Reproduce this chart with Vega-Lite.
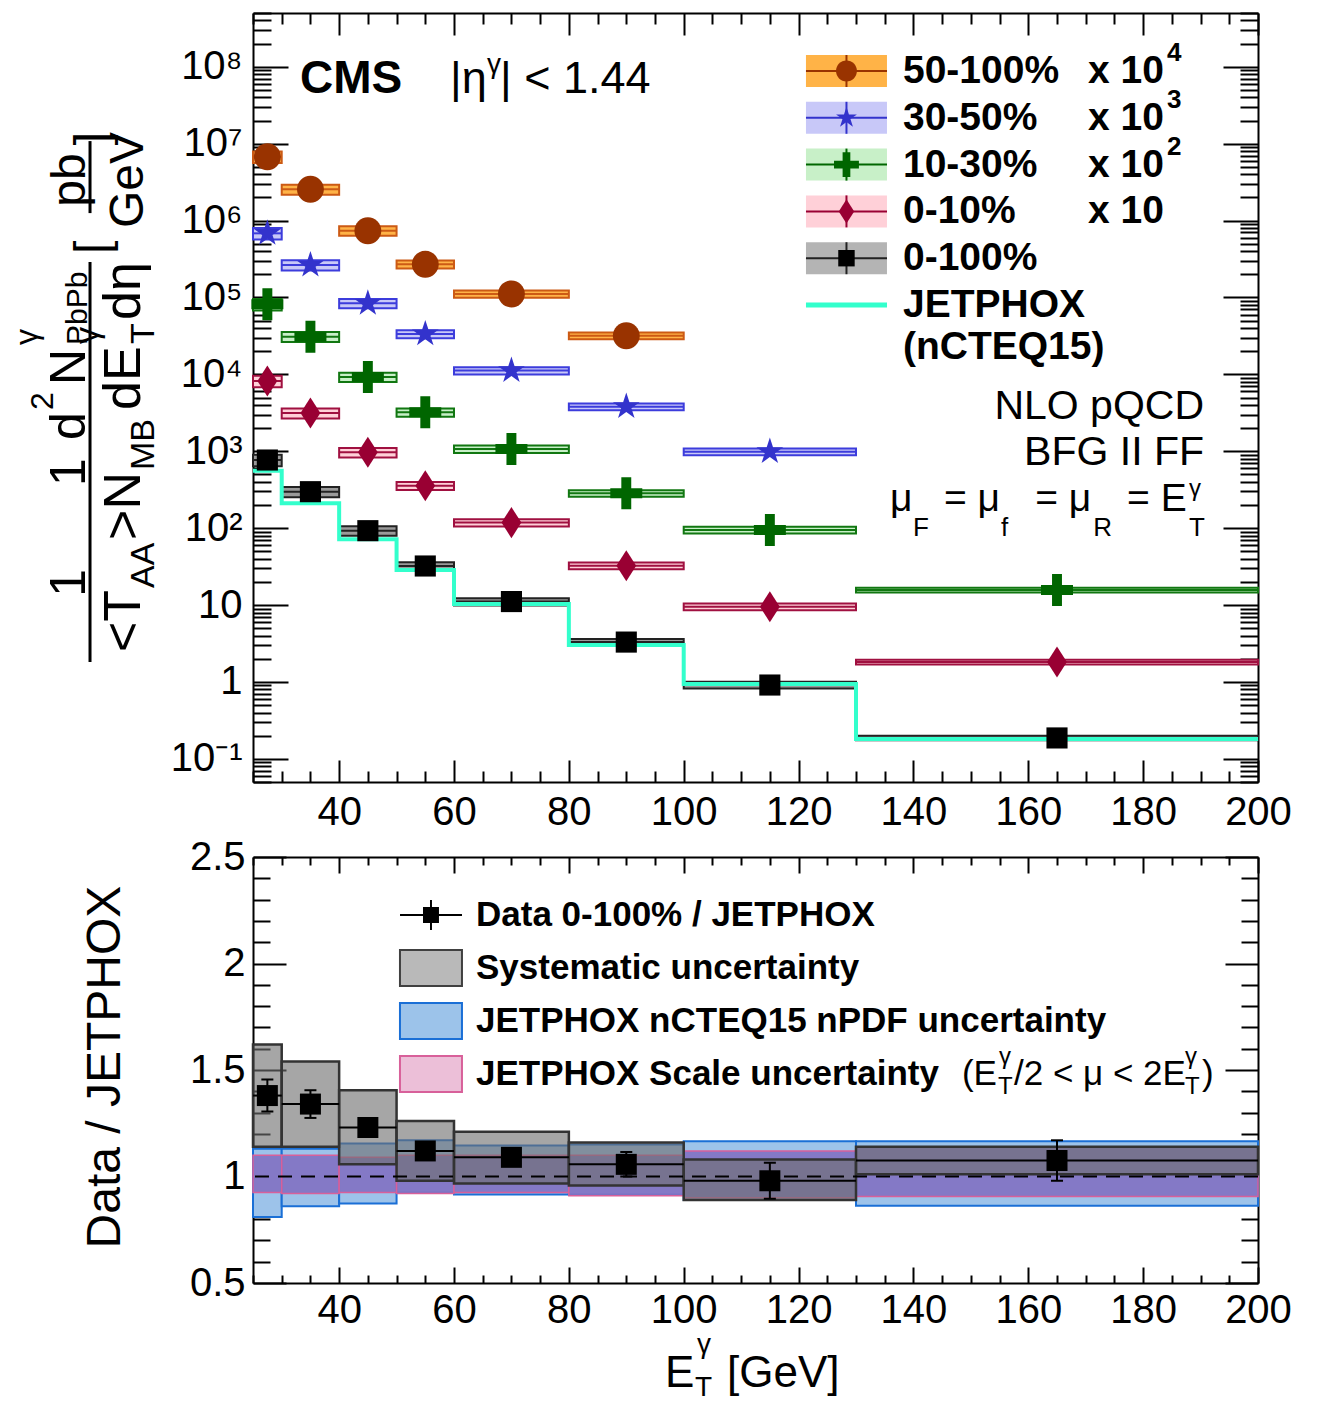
{
  "$schema": "https://vega.github.io/schema/vega-lite/v6.json",
  "width": 1005,
  "height": 1270,
  "autosize": {"type": "none"},
  "padding": {"left": 253, "top": 13, "right": 62, "bottom": 119},
  "background": "white",
  "config": {
    "font": "Liberation Sans",
    "view": {"stroke": null},
    "axis": {"grid": false, "domainColor": "black", "domainWidth": 2, "tickColor": "black", "tickWidth": 2, "labelColor": "black", "labelFont": "Liberation Sans", "labelFontSize": 40, "labelOverlap": false, "labelBound": false, "labelFlush": false},
    "style": {
      "rot": {"angle": 270, "align": "left", "baseline": "alphabetic", "fontSize": 52, "fill": "black"},
      "txt": {"align": "left", "baseline": "alphabetic", "fill": "black"}
    }
  },
  "datasets": {
    "spectra": [
      {"cent": "50-100%", "lo": 25, "hi": 30, "x": 27.5, "y": 6760000, "ylo": 5610000, "yhi": 7910000},
      {"cent": "50-100%", "lo": 30, "hi": 40, "x": 35, "y": 2550000, "ylo": 2170000, "yhi": 2930000},
      {"cent": "50-100%", "lo": 40, "hi": 50, "x": 45, "y": 738000, "ylo": 635000, "yhi": 841000},
      {"cent": "50-100%", "lo": 50, "hi": 60, "x": 55, "y": 270000, "ylo": 238000, "yhi": 302000},
      {"cent": "50-100%", "lo": 60, "hi": 80, "x": 70, "y": 111000, "ylo": 98800, "yhi": 123000},
      {"cent": "50-100%", "lo": 80, "hi": 100, "x": 90, "y": 31800, "ylo": 28600, "yhi": 35000},
      {"cent": "30-50%", "lo": 25, "hi": 30, "x": 27.5, "y": 682000, "ylo": 566000, "yhi": 798000},
      {"cent": "30-50%", "lo": 30, "hi": 40, "x": 35, "y": 264000, "ylo": 224000, "yhi": 304000},
      {"cent": "30-50%", "lo": 40, "hi": 50, "x": 45, "y": 84000, "ylo": 72200, "yhi": 95800},
      {"cent": "30-50%", "lo": 50, "hi": 60, "x": 55, "y": 33500, "ylo": 29500, "yhi": 37500},
      {"cent": "30-50%", "lo": 60, "hi": 80, "x": 70, "y": 11200, "ylo": 9970, "yhi": 12400},
      {"cent": "30-50%", "lo": 80, "hi": 100, "x": 90, "y": 3800, "ylo": 3420, "yhi": 4180},
      {"cent": "30-50%", "lo": 100, "hi": 130, "x": 115, "y": 988, "ylo": 889, "yhi": 1087},
      {"cent": "10-30%", "lo": 25, "hi": 30, "x": 27.5, "y": 81500, "ylo": 67600, "yhi": 95400},
      {"cent": "10-30%", "lo": 30, "hi": 40, "x": 35, "y": 30900, "ylo": 26300, "yhi": 35500},
      {"cent": "10-30%", "lo": 40, "hi": 50, "x": 45, "y": 9250, "ylo": 7960, "yhi": 10500},
      {"cent": "10-30%", "lo": 50, "hi": 60, "x": 55, "y": 3210, "ylo": 2820, "yhi": 3600},
      {"cent": "10-30%", "lo": 60, "hi": 80, "x": 70, "y": 1070, "ylo": 952, "yhi": 1188},
      {"cent": "10-30%", "lo": 80, "hi": 100, "x": 90, "y": 284, "ylo": 256, "yhi": 312},
      {"cent": "10-30%", "lo": 100, "hi": 130, "x": 115, "y": 94.6, "ylo": 85.1, "yhi": 104.1},
      {"cent": "10-30%", "lo": 130, "hi": 200, "x": 165, "y": 15.7, "ylo": 14.6, "yhi": 16.8},
      {"cent": "0-10%", "lo": 25, "hi": 30, "x": 27.5, "y": 8200, "ylo": 6810, "yhi": 9590},
      {"cent": "0-10%", "lo": 30, "hi": 40, "x": 35, "y": 3140, "ylo": 2670, "yhi": 3610},
      {"cent": "0-10%", "lo": 40, "hi": 50, "x": 45, "y": 968, "ylo": 832, "yhi": 1104},
      {"cent": "0-10%", "lo": 50, "hi": 60, "x": 55, "y": 356, "ylo": 313, "yhi": 399},
      {"cent": "0-10%", "lo": 60, "hi": 80, "x": 70, "y": 118, "ylo": 105, "yhi": 131},
      {"cent": "0-10%", "lo": 80, "hi": 100, "x": 90, "y": 32.5, "ylo": 29.3, "yhi": 35.8},
      {"cent": "0-10%", "lo": 100, "hi": 130, "x": 115, "y": 9.5, "ylo": 8.55, "yhi": 10.45},
      {"cent": "0-10%", "lo": 130, "hi": 200, "x": 165, "y": 1.82, "ylo": 1.69, "yhi": 1.95},
      {"cent": "0-100%", "lo": 25, "hi": 30, "x": 27.5, "y": 769, "ylo": 638, "yhi": 900},
      {"cent": "0-100%", "lo": 30, "hi": 40, "x": 35, "y": 298, "ylo": 253, "yhi": 343},
      {"cent": "0-100%", "lo": 40, "hi": 50, "x": 45, "y": 92.7, "ylo": 79.7, "yhi": 105.7},
      {"cent": "0-100%", "lo": 50, "hi": 60, "x": 55, "y": 32.2, "ylo": 28.3, "yhi": 36.1},
      {"cent": "0-100%", "lo": 60, "hi": 80, "x": 70, "y": 11.1, "ylo": 9.88, "yhi": 12.3},
      {"cent": "0-100%", "lo": 80, "hi": 100, "x": 90, "y": 3.3, "ylo": 2.97, "yhi": 3.63},
      {"cent": "0-100%", "lo": 100, "hi": 130, "x": 115, "y": 0.912, "ylo": 0.821, "yhi": 1.003},
      {"cent": "0-100%", "lo": 130, "hi": 200, "x": 165, "y": 0.187, "ylo": 0.174, "yhi": 0.2}
    ],
    "jetphox": [
      {"edge": 25, "val": 558}, {"edge": 30, "val": 210}, {"edge": 40, "val": 71.6}, {"edge": 50, "val": 28.6},
      {"edge": 60, "val": 10.3}, {"edge": 80, "val": 3.03}, {"edge": 100, "val": 0.94}, {"edge": 130, "val": 0.181},
      {"edge": 200, "val": 0.181}
    ],
    "ratio": [
      {"lo": 25, "hi": 30, "x": 27.5, "r": 1.38, "slo": 1.305, "shi": 1.455, "syslo": 1.14, "syshi": 1.62, "pdflo": 0.81, "pdfhi": 1.13, "sclo": 0.925, "schi": 1.1},
      {"lo": 30, "hi": 40, "x": 35, "r": 1.34, "slo": 1.275, "shi": 1.405, "syslo": 1.14, "syshi": 1.54, "pdflo": 0.86, "pdfhi": 1.13, "sclo": 0.92, "schi": 1.1},
      {"lo": 40, "hi": 50, "x": 45, "r": 1.23, "slo": 1.2, "shi": 1.26, "syslo": 1.057, "syshi": 1.405, "pdflo": 0.873, "pdfhi": 1.155, "sclo": 0.925, "schi": 1.09},
      {"lo": 50, "hi": 60, "x": 55, "r": 1.12, "slo": 1.09, "shi": 1.15, "syslo": 0.98, "syshi": 1.26, "pdflo": 0.925, "pdfhi": 1.17, "sclo": 0.92, "schi": 1.1},
      {"lo": 60, "hi": 80, "x": 70, "r": 1.09, "slo": 1.065, "shi": 1.115, "syslo": 0.967, "syshi": 1.21, "pdflo": 0.915, "pdfhi": 1.146, "sclo": 0.925, "schi": 1.1},
      {"lo": 80, "hi": 100, "x": 90, "r": 1.057, "slo": 1.0, "shi": 1.115, "syslo": 0.958, "syshi": 1.16, "pdflo": 0.915, "pdfhi": 1.15, "sclo": 0.91, "schi": 1.1},
      {"lo": 100, "hi": 130, "x": 115, "r": 0.98, "slo": 0.895, "shi": 1.065, "syslo": 0.89, "syshi": 1.08, "pdflo": 0.89, "pdfhi": 1.165, "sclo": 0.9, "schi": 1.12},
      {"lo": 130, "hi": 200, "x": 165, "r": 1.075, "slo": 0.98, "shi": 1.17, "syslo": 1.01, "syshi": 1.14, "pdflo": 0.863, "pdfhi": 1.165, "sclo": 0.906, "schi": 1.14}
    ],
    "legtop": [
      {"cent": "50-100%", "label": "50-100%", "mult": "x 10", "exp": "4", "label2": ""},
      {"cent": "30-50%", "label": "30-50%", "mult": "x 10", "exp": "3", "label2": ""},
      {"cent": "10-30%", "label": "10-30%", "mult": "x 10", "exp": "2", "label2": ""},
      {"cent": "0-10%", "label": "0-10%", "mult": "x 10", "exp": "", "label2": ""},
      {"cent": "0-100%", "label": "0-100%", "mult": "", "exp": "", "label2": ""},
      {"cent": "JETPHOX", "label": "JETPHOX", "mult": "", "exp": "", "label2": "(nCTEQ15)"}
    ],
    "legbot": [
      {"key": "data", "label": "Data 0-100% / JETPHOX"},
      {"key": "sys", "label": "Systematic uncertainty"},
      {"key": "pdf", "label": "JETPHOX nCTEQ15 nPDF uncertainty"},
      {"key": "scale", "label": "JETPHOX Scale uncertainty"}
    ]
  },
  "layer": [
    {
      "layer": [
        {
          "data": {"name": "spectra"},
          "mark": {"type": "rect", "strokeWidth": 2},
          "encoding": {
            "x": {"field": "lo", "type": "quantitative", "scale": {"type": "linear", "domain": [25, 200], "nice": false, "zero": false},
              "axis": {"orient": "bottom", "offset": -501, "title": null, "values": [25,30,35,40,45,50,55,60,65,70,75,80,85,90,95,100,105,110,115,120,125,130,135,140,145,150,155,160,165,170,175,180,185,190,195,200],
                "labelExpr": "datum.value % 20 == 0 && datum.value >= 40 ? '' + datum.value : ''",
                "tickSize": {"condition": {"test": "datum.value % 20 == 0", "value": -22}, "value": -11}, "labelPadding": 32}},
            "x2": {"field": "hi"},
            "y": {"field": "ylo", "type": "quantitative", "scale": {"type": "log", "domain": [0.05, 500000000], "nice": false, "range": [769, 0]},
              "axis": {"orient": "left", "title": null, "values": [0.05,0.06,0.07,0.08,0.09,0.1,0.2,0.3,0.4,0.5,0.6,0.7,0.8,0.9,1,2,3,4,5,6,7,8,9,10,20,30,40,50,60,70,80,90,100,200,300,400,500,600,700,800,900,1000,2000,3000,4000,5000,6000,7000,8000,9000,10000,20000,30000,40000,50000,60000,70000,80000,90000,100000,200000,300000,400000,500000,600000,700000,800000,900000,1000000,2000000,3000000,4000000,5000000,6000000,7000000,8000000,9000000,10000000,20000000,30000000,40000000,50000000,60000000,70000000,80000000,90000000,100000000,200000000,300000000,400000000,500000000],
                "labelExpr": "abs(log(datum.value)/LN10 - round(log(datum.value)/LN10)) < 0.001 ? ['10⁻¹','1','10','10²','10³','10⁴','10⁵','10⁶','10⁷','10⁸'][round(log(datum.value)/LN10)+1] : ''",
                "tickSize": {"condition": {"test": "abs(log(datum.value)/LN10 - round(log(datum.value)/LN10)) < 0.001", "value": -35}, "value": -18}, "labelPadding": 46}},
            "y2": {"field": "yhi"},
            "fill": {"field": "cent", "type": "nominal", "legend": null, "scale": {"domain": ["50-100%","30-50%","10-30%","0-10%","0-100%"], "range": ["#ffb347","#c8c8f8","#c8f0c8","#ffd0d8","#9a9a9a"]}},
            "stroke": {"field": "cent", "type": "nominal", "legend": null, "scale": {"domain": ["50-100%","30-50%","10-30%","0-10%","0-100%"], "range": ["#cc5a14","#3c3cdc","#117711","#a01040","#222222"]}}
          }
        },
        {
          "data": {"name": "spectra"},
          "mark": {"type": "rule", "strokeWidth": 2},
          "encoding": {
            "x": {"field": "lo", "type": "quantitative",
              "axis": {"orient": "top", "title": null, "labels": false, "values": [25,30,35,40,45,50,55,60,65,70,75,80,85,90,95,100,105,110,115,120,125,130,135,140,145,150,155,160,165,170,175,180,185,190,195,200],
                "tickSize": {"condition": {"test": "datum.value % 20 == 0", "value": -22}, "value": -11}}},
            "x2": {"field": "hi"},
            "y": {"field": "y", "type": "quantitative",
              "axis": {"orient": "right", "title": null, "labels": false, "values": [0.05,0.06,0.07,0.08,0.09,0.1,0.2,0.3,0.4,0.5,0.6,0.7,0.8,0.9,1,2,3,4,5,6,7,8,9,10,20,30,40,50,60,70,80,90,100,200,300,400,500,600,700,800,900,1000,2000,3000,4000,5000,6000,7000,8000,9000,10000,20000,30000,40000,50000,60000,70000,80000,90000,100000,200000,300000,400000,500000,600000,700000,800000,900000,1000000,2000000,3000000,4000000,5000000,6000000,7000000,8000000,9000000,10000000,20000000,30000000,40000000,50000000,60000000,70000000,80000000,90000000,100000000,200000000,300000000,400000000,500000000],
                "tickSize": {"condition": {"test": "abs(log(datum.value)/LN10 - round(log(datum.value)/LN10)) < 0.001", "value": -35}, "value": -18}}},
            "stroke": {"field": "cent", "type": "nominal", "legend": null}
          }
        },
        {
          "data": {"name": "jetphox"},
          "mark": {"type": "line", "interpolate": "step-after", "color": "#33ffcc", "strokeWidth": 4},
          "encoding": {
            "x": {"field": "edge", "type": "quantitative", "axis": null},
            "y": {"field": "val", "type": "quantitative", "axis": null}
          }
        },
        {
          "data": {"name": "spectra"},
          "mark": {"type": "point", "filled": true, "opacity": 1, "size": 1024, "strokeWidth": 0},
          "encoding": {
            "x": {"field": "x", "type": "quantitative", "axis": null},
            "y": {"field": "y", "type": "quantitative", "axis": null},
            "shape": {"field": "cent", "type": "nominal", "legend": null, "scale": {"domain": ["50-100%","30-50%","10-30%","0-10%","0-100%"], "range": [
              "M0.84,0A0.84,0.84,0,1,1,-0.84,0A0.84,0.84,0,1,1,0.84,0Z",
              "M0,-0.88L0.198,-0.272L0.837,-0.272L0.32,0.104L0.517,0.712L0,0.336L-0.517,0.712L-0.32,0.104L-0.837,-0.272L-0.198,-0.272Z",
              "M-0.31,-1L0.31,-1L0.31,-0.31L1,-0.31L1,0.31L0.31,0.31L0.31,1L-0.31,1L-0.31,0.31L-1,0.31L-1,-0.31L-0.31,-0.31Z",
              "M0,-0.97L0.62,0L0,0.97L-0.62,0Z",
              "M-0.66,-0.66L0.66,-0.66L0.66,0.66L-0.66,0.66Z"]}},
            "color": {"field": "cent", "type": "nominal", "legend": null, "scale": {"domain": ["50-100%","30-50%","10-30%","0-10%","0-100%"], "range": ["#993300","#3333cc","#006600","#990033","#000000"]}}
          }
        },
        {"data": {"values": [{}]}, "mark": {"type": "text", "style": "txt", "fontSize": 46, "fontWeight": "bold", "text": "CMS"}, "encoding": {"x": {"datum": 33.18, "axis": null}, "y": {"datum": 45600000, "axis": null}}},
        {"data": {"values": [{}]}, "mark": {"type": "text", "style": "txt", "fontSize": 45, "text": "|η"}, "encoding": {"x": {"datum": 59.3, "axis": null}, "y": {"datum": 45600000, "axis": null}}},
        {"data": {"values": [{}]}, "mark": {"type": "text", "style": "txt", "fontSize": 28, "dy": -20, "text": "γ"}, "encoding": {"x": {"datum": 65.75, "axis": null}, "y": {"datum": 45600000, "axis": null}}},
        {"data": {"values": [{}]}, "mark": {"type": "text", "style": "txt", "fontSize": 45, "text": "| < 1.44"}, "encoding": {"x": {"datum": 68.01, "axis": null}, "y": {"datum": 45600000, "axis": null}}},
        {"data": {"values": [{}]}, "mark": {"type": "text", "style": "txt", "align": "right", "fontSize": 41, "text": "NLO pQCD"}, "encoding": {"x": {"datum": 190.6, "axis": null}, "y": {"datum": 2624, "axis": null}}},
        {"data": {"values": [{}]}, "mark": {"type": "text", "style": "txt", "align": "right", "fontSize": 41, "text": "BFG II FF"}, "encoding": {"x": {"datum": 190.6, "axis": null}, "y": {"datum": 662, "axis": null}}},
        {"data": {"values": [{}]}, "mark": {"type": "text", "style": "txt", "fontSize": 39, "text": "μ"}, "encoding": {"x": {"datum": 135.92, "axis": null}, "y": {"datum": 167, "axis": null}}},
        {"data": {"values": [{}]}, "mark": {"type": "text", "style": "txt", "fontSize": 26, "dy": 25, "text": "F"}, "encoding": {"x": {"datum": 139.92, "axis": null}, "y": {"datum": 167, "axis": null}}},
        {"data": {"values": [{}]}, "mark": {"type": "text", "style": "txt", "fontSize": 39, "text": "= μ"}, "encoding": {"x": {"datum": 145.32, "axis": null}, "y": {"datum": 167, "axis": null}}},
        {"data": {"values": [{}]}, "mark": {"type": "text", "style": "txt", "fontSize": 26, "dy": 25, "text": "f"}, "encoding": {"x": {"datum": 155.25, "axis": null}, "y": {"datum": 167, "axis": null}}},
        {"data": {"values": [{}]}, "mark": {"type": "text", "style": "txt", "fontSize": 39, "text": "= μ"}, "encoding": {"x": {"datum": 161.2, "axis": null}, "y": {"datum": 167, "axis": null}}},
        {"data": {"values": [{}]}, "mark": {"type": "text", "style": "txt", "fontSize": 26, "dy": 25, "text": "R"}, "encoding": {"x": {"datum": 171.3, "axis": null}, "y": {"datum": 167, "axis": null}}},
        {"data": {"values": [{}]}, "mark": {"type": "text", "style": "txt", "fontSize": 39, "text": "= E"}, "encoding": {"x": {"datum": 177.2, "axis": null}, "y": {"datum": 167, "axis": null}}},
        {"data": {"values": [{}]}, "mark": {"type": "text", "style": "txt", "fontSize": 24, "dy": -15, "text": "γ"}, "encoding": {"x": {"datum": 188.0, "axis": null}, "y": {"datum": 167, "axis": null}}},
        {"data": {"values": [{}]}, "mark": {"type": "text", "style": "txt", "fontSize": 26, "dy": 25, "text": "T"}, "encoding": {"x": {"datum": 188.0, "axis": null}, "y": {"datum": 167, "axis": null}}},
        {"data": {"values": [{}]}, "mark": {"type": "text", "style": "rot", "fontSize": 50, "align": "center", "text": "1"}, "encoding": {"x": {"datum": -4.25, "axis": null}, "y": {"datum": 19.4, "axis": null}}},
        {"data": {"values": [{}]}, "mark": {"type": "text", "style": "rot", "fontSize": 50, "align": "center", "text": "1"}, "encoding": {"x": {"datum": -4.25, "axis": null}, "y": {"datum": 537, "axis": null}}},
        {"data": {"values": [{}]}, "mark": {"type": "text", "style": "rot", "fontSize": 50, "text": "d"}, "encoding": {"x": {"datum": -4.25, "axis": null}, "y": {"datum": 1400, "axis": null}}},
        {"data": {"values": [{}]}, "mark": {"type": "text", "style": "rot", "fontSize": 32, "dy": -32, "text": "2"}, "encoding": {"x": {"datum": -4.25, "axis": null}, "y": {"datum": 3436, "axis": null}}},
        {"data": {"values": [{}]}, "mark": {"type": "text", "style": "rot", "fontSize": 50, "text": "N"}, "encoding": {"x": {"datum": -4.25, "axis": null}, "y": {"datum": 7278, "axis": null}}},
        {"data": {"values": [{}]}, "mark": {"type": "text", "style": "rot", "fontSize": 32, "dy": -48, "text": "γ"}, "encoding": {"x": {"datum": -4.25, "axis": null}, "y": {"datum": 24100, "axis": null}}},
        {"data": {"values": [{}]}, "mark": {"type": "text", "style": "rot", "fontSize": 30, "dy": 2, "text": "PbPb"}, "encoding": {"x": {"datum": -4.25, "axis": null}, "y": {"datum": 24100, "axis": null}}},
        {"data": {"values": [{}]}, "mark": {"type": "rule", "strokeWidth": 3, "color": "black"}, "encoding": {"x": {"datum": -3.38, "axis": null}, "y": {"datum": 1.82, "axis": null}, "y2": {"datum": 289000}}},
        {"data": {"values": [{}]}, "mark": {"type": "text", "style": "rot", "text": "<T"}, "encoding": {"x": {"datum": 5.32, "axis": null}, "y": {"datum": 2.45, "axis": null}}},
        {"data": {"values": [{}]}, "mark": {"type": "text", "style": "rot", "fontSize": 34, "dy": 14, "text": "AA"}, "encoding": {"x": {"datum": 5.32, "axis": null}, "y": {"datum": 16.7, "axis": null}}},
        {"data": {"values": [{}]}, "mark": {"type": "text", "style": "rot", "text": ">N"}, "encoding": {"x": {"datum": 5.32, "axis": null}, "y": {"datum": 70.2, "axis": null}}},
        {"data": {"values": [{}]}, "mark": {"type": "text", "style": "rot", "fontSize": 34, "dy": 14, "text": "MB"}, "encoding": {"x": {"datum": 5.32, "axis": null}, "y": {"datum": 570, "axis": null}}},
        {"data": {"values": [{}]}, "mark": {"type": "text", "style": "rot", "text": "dE"}, "encoding": {"x": {"datum": 5.32, "axis": null}, "y": {"datum": 3436, "axis": null}}},
        {"data": {"values": [{}]}, "mark": {"type": "text", "style": "rot", "fontSize": 34, "dy": 14, "text": "T"}, "encoding": {"x": {"datum": 5.32, "axis": null}, "y": {"datum": 24830, "axis": null}}},
        {"data": {"values": [{}]}, "mark": {"type": "text", "style": "rot", "fontSize": 34, "dy": -42, "text": "γ"}, "encoding": {"x": {"datum": 5.32, "axis": null}, "y": {"datum": 24830, "axis": null}}},
        {"data": {"values": [{}]}, "mark": {"type": "text", "style": "rot", "text": "dη"}, "encoding": {"x": {"datum": 5.32, "axis": null}, "y": {"datum": 50930, "axis": null}}},
        {"data": {"values": [{}]}, "mark": {"type": "text", "style": "rot", "fontSize": 48, "text": "["}, "encoding": {"x": {"datum": -0.25, "axis": null}, "y": {"datum": 367000, "axis": null}}},
        {"data": {"values": [{}]}, "mark": {"type": "text", "style": "rot", "fontSize": 48, "align": "center", "text": "pb"}, "encoding": {"x": {"datum": -4.25, "axis": null}, "y": {"datum": 3370000, "axis": null}}},
        {"data": {"values": [{}]}, "mark": {"type": "rule", "strokeWidth": 3, "color": "black"}, "encoding": {"x": {"datum": -3.38, "axis": null}, "y": {"datum": 1250000, "axis": null}, "y2": {"datum": 10800000}}},
        {"data": {"values": [{}]}, "mark": {"type": "text", "style": "rot", "fontSize": 48, "align": "center", "text": "GeV"}, "encoding": {"x": {"datum": 5.85, "axis": null}, "y": {"datum": 3370000, "axis": null}}},
        {"data": {"values": [{}]}, "mark": {"type": "text", "style": "rot", "fontSize": 48, "align": "right", "text": "]"}, "encoding": {"x": {"datum": -0.25, "axis": null}, "y": {"datum": 14200000, "axis": null}}}
      ],
      "resolve": {"axis": {"x": "independent", "y": "independent"}}
    },
    {
      "layer": [
        {
          "data": {"name": "ratio"},
          "mark": {"type": "rect", "fill": "#9dc3ea", "stroke": "#1a6fd6", "strokeWidth": 2},
          "encoding": {
            "x": {"field": "lo", "type": "quantitative",
              "axis": {"orient": "bottom", "title": null, "values": [25,30,35,40,45,50,55,60,65,70,75,80,85,90,95,100,105,110,115,120,125,130,135,140,145,150,155,160,165,170,175,180,185,190,195,200],
                "labelExpr": "datum.value % 20 == 0 && datum.value >= 40 ? '' + datum.value : ''",
                "tickSize": {"condition": {"test": "datum.value % 20 == 0", "value": -16}, "value": -8}, "labelPadding": 23}},
            "x2": {"field": "hi"},
            "y": {"field": "pdflo", "type": "quantitative", "scale": {"type": "linear", "domain": [0.5, 2.5], "nice": false, "zero": false, "range": [1270, 844]},
              "axis": {"orient": "left", "title": null, "values": [0.5,0.6,0.7,0.8,0.9,1,1.1,1.2,1.3,1.4,1.5,1.6,1.7,1.8,1.9,2,2.1,2.2,2.3,2.4,2.5],
                "labelExpr": "abs(datum.value*2 - round(datum.value*2)) < 0.001 ? format(datum.value, '~g') : ''",
                "tickSize": {"condition": {"test": "abs(datum.value*2 - round(datum.value*2)) < 0.001", "value": -33}, "value": -17}, "labelPadding": 41}},
            "y2": {"field": "pdfhi"}
          }
        },
        {
          "data": {"name": "ratio"},
          "mark": {"type": "rect", "fill": "#8273c2", "fillOpacity": 0.92, "stroke": "#d8609a", "strokeWidth": 1.5},
          "encoding": {
            "x": {"field": "lo", "type": "quantitative",
              "axis": {"orient": "top", "offset": -844, "title": null, "labels": false, "values": [25,30,35,40,45,50,55,60,65,70,75,80,85,90,95,100,105,110,115,120,125,130,135,140,145,150,155,160,165,170,175,180,185,190,195,200],
                "tickSize": {"condition": {"test": "datum.value % 20 == 0", "value": -16}, "value": -8}}},
            "x2": {"field": "hi"},
            "y": {"field": "sclo", "type": "quantitative",
              "axis": {"orient": "right", "title": null, "labels": false, "values": [0.5,0.6,0.7,0.8,0.9,1,1.1,1.2,1.3,1.4,1.5,1.6,1.7,1.8,1.9,2,2.1,2.2,2.3,2.4,2.5],
                "tickSize": {"condition": {"test": "abs(datum.value*2 - round(datum.value*2)) < 0.001", "value": -33}, "value": -17}}},
            "y2": {"field": "schi"}
          }
        },
        {
          "data": {"name": "ratio"},
          "mark": {"type": "rect", "fill": "#707070", "fillOpacity": 0.62, "stroke": "#333333", "strokeWidth": 2.5},
          "encoding": {
            "x": {"field": "lo", "type": "quantitative", "axis": null},
            "x2": {"field": "hi"},
            "y": {"field": "syslo", "type": "quantitative", "axis": null},
            "y2": {"field": "syshi"}
          }
        },
        {"data": {"values": [{}]}, "mark": {"type": "rule", "color": "black", "strokeWidth": 2, "strokeDash": [14, 9]}, "encoding": {"y": {"datum": 1, "axis": null}}},
        {
          "data": {"name": "ratio"},
          "mark": {"type": "rule", "color": "black", "strokeWidth": 2},
          "encoding": {"x": {"field": "lo", "type": "quantitative", "axis": null}, "x2": {"field": "hi"}, "y": {"field": "r", "type": "quantitative", "axis": null}}
        },
        {
          "data": {"name": "ratio"},
          "mark": {"type": "rule", "color": "black", "strokeWidth": 2},
          "encoding": {"x": {"field": "x", "type": "quantitative", "axis": null}, "y": {"field": "slo", "type": "quantitative", "axis": null}, "y2": {"field": "shi"}}
        },
        {
          "data": {"name": "ratio"},
          "mark": {"type": "tick", "orient": "horizontal", "size": 12, "thickness": 2, "color": "black", "opacity": 1},
          "encoding": {"x": {"field": "x", "type": "quantitative", "axis": null}, "y": {"field": "slo", "type": "quantitative", "axis": null}}
        },
        {
          "data": {"name": "ratio"},
          "mark": {"type": "tick", "orient": "horizontal", "size": 12, "thickness": 2, "color": "black", "opacity": 1},
          "encoding": {"x": {"field": "x", "type": "quantitative", "axis": null}, "y": {"field": "shi", "type": "quantitative", "axis": null}}
        },
        {
          "data": {"name": "ratio"},
          "mark": {"type": "point", "shape": "square", "filled": true, "size": 441, "color": "black", "opacity": 1, "strokeWidth": 0},
          "encoding": {"x": {"field": "x", "type": "quantitative", "axis": null}, "y": {"field": "r", "type": "quantitative", "axis": null}}
        },
        {"data": {"values": [{}]}, "mark": {"type": "text", "style": "txt", "fontSize": 44, "text": "E"}, "encoding": {"x": {"datum": 96.74, "axis": null}, "y": {"datum": 0.0117, "axis": null}}},
        {"data": {"values": [{}]}, "mark": {"type": "text", "style": "txt", "fontSize": 28, "dy": -34, "text": "γ"}, "encoding": {"x": {"datum": 102.31, "axis": null}, "y": {"datum": 0.0117, "axis": null}}},
        {"data": {"values": [{}]}, "mark": {"type": "text", "style": "txt", "fontSize": 28, "dy": 9, "text": "T"}, "encoding": {"x": {"datum": 101.96, "axis": null}, "y": {"datum": 0.0117, "axis": null}}},
        {"data": {"values": [{}]}, "mark": {"type": "text", "style": "txt", "fontSize": 44, "text": "[GeV]"}, "encoding": {"x": {"datum": 107.54, "axis": null}, "y": {"datum": 0.0117, "axis": null}}},
        {"data": {"values": [{}]}, "mark": {"type": "text", "style": "rot", "fontSize": 48, "align": "center", "text": "Data / JETPHOX"}, "encoding": {"x": {"datum": 1.84, "axis": null}, "y": {"datum": 1.514, "axis": null}}}
      ],
      "resolve": {"axis": {"x": "independent", "y": "independent"}}
    },
    {
      "data": {"name": "legtop"},
      "layer": [
        {
          "transform": [{"filter": "datum.cent != 'JETPHOX'"}],
          "mark": {"type": "point", "shape": "M-1,-0.395L1,-0.395L1,0.395L-1,0.395Z", "size": 6561, "filled": true, "opacity": 1, "strokeWidth": 0},
          "encoding": {
            "x": {"datum": 128.34, "axis": null},
            "y": {"field": "cent", "type": "nominal", "axis": null, "scale": {"type": "point", "domain": ["50-100%","30-50%","10-30%","0-10%","0-100%","JETPHOX"], "range": [58, 292], "padding": 0}},
            "fill": {"field": "cent", "type": "nominal", "legend": null, "scale": {"domain": ["50-100%","30-50%","10-30%","0-10%","0-100%"], "range": ["#ffb347","#c8c8f8","#c8f0c8","#ffd0d8","#b4b4b4"]}}
          }
        },
        {
          "transform": [{"filter": "datum.cent != 'JETPHOX'"}],
          "mark": {"type": "rule", "strokeWidth": 2},
          "encoding": {
            "x": {"datum": 121.29, "axis": null}, "x2": {"datum": 135.4},
            "y": {"field": "cent", "type": "nominal", "axis": null},
            "stroke": {"field": "cent", "type": "nominal", "legend": null, "scale": {"domain": ["50-100%","30-50%","10-30%","0-10%","0-100%"], "range": ["#993300","#3333cc","#006600","#990033","#222222"]}}
          }
        },
        {
          "transform": [{"filter": "datum.cent != 'JETPHOX'"}],
          "mark": {"type": "point", "shape": "M0,-1L0,1", "size": 1024, "filled": false, "opacity": 1, "strokeWidth": 2},
          "encoding": {
            "x": {"datum": 128.34, "axis": null},
            "y": {"field": "cent", "type": "nominal", "axis": null},
            "stroke": {"field": "cent", "type": "nominal", "legend": null}
          }
        },
        {
          "transform": [{"filter": "datum.cent != 'JETPHOX'"}],
          "mark": {"type": "point", "filled": true, "opacity": 1, "size": 620, "strokeWidth": 0},
          "encoding": {
            "x": {"datum": 128.34, "axis": null},
            "y": {"field": "cent", "type": "nominal", "axis": null},
            "shape": {"field": "cent", "type": "nominal", "legend": null},
            "color": {"field": "cent", "type": "nominal", "legend": null}
          }
        },
        {
          "transform": [{"filter": "datum.cent == 'JETPHOX'"}],
          "mark": {"type": "rule", "strokeWidth": 5, "color": "#33ffcc"},
          "encoding": {
            "x": {"datum": 121.29, "axis": null}, "x2": {"datum": 135.4},
            "y": {"field": "cent", "type": "nominal", "axis": null}
          }
        },
        {
          "mark": {"type": "text", "align": "left", "baseline": "middle", "fontSize": 39, "fontWeight": "bold", "color": "black"},
          "encoding": {"x": {"datum": 138.18, "axis": null}, "y": {"field": "cent", "type": "nominal", "axis": null}, "text": {"field": "label"}}
        },
        {
          "mark": {"type": "text", "align": "left", "baseline": "middle", "fontSize": 39, "fontWeight": "bold", "color": "black"},
          "encoding": {"x": {"datum": 170.39, "axis": null}, "y": {"field": "cent", "type": "nominal", "axis": null}, "text": {"field": "mult"}}
        },
        {
          "mark": {"type": "text", "align": "left", "baseline": "middle", "fontSize": 26, "fontWeight": "bold", "dy": -18, "color": "black"},
          "encoding": {"x": {"datum": 184.15, "axis": null}, "y": {"field": "cent", "type": "nominal", "axis": null}, "text": {"field": "exp"}}
        },
        {
          "mark": {"type": "text", "align": "left", "baseline": "middle", "fontSize": 39, "fontWeight": "bold", "dy": 42, "color": "black"},
          "encoding": {"x": {"datum": 138.18, "axis": null}, "y": {"field": "cent", "type": "nominal", "axis": null}, "text": {"field": "label2"}}
        }
      ]
    },
    {
      "data": {"name": "legbot"},
      "layer": [
        {
          "transform": [{"filter": "datum.key != 'data'"}],
          "mark": {"type": "point", "shape": "M-1,-0.58L1,-0.58L1,0.58L-1,0.58Z", "size": 3844, "filled": true, "opacity": 1, "strokeWidth": 2},
          "encoding": {
            "x": {"datum": 55.99, "axis": null},
            "y": {"field": "key", "type": "nominal", "axis": null, "scale": {"type": "point", "domain": ["data","sys","pdf","scale"], "range": [902, 1061], "padding": 0}},
            "fill": {"field": "key", "type": "nominal", "legend": null, "scale": {"domain": ["sys","pdf","scale"], "range": ["#b9b9b9","#9cc3ea","#ecbfd8"]}},
            "stroke": {"field": "key", "type": "nominal", "legend": null, "scale": {"domain": ["sys","pdf","scale"], "range": ["#404040","#1a6fd6","#d8609a"]}}
          }
        },
        {
          "transform": [{"filter": "datum.key == 'data'"}],
          "mark": {"type": "rule", "strokeWidth": 2, "color": "black"},
          "encoding": {"x": {"datum": 50.6, "axis": null}, "x2": {"datum": 61.39}, "y": {"field": "key", "type": "nominal", "axis": null}}
        },
        {
          "transform": [{"filter": "datum.key == 'data'"}],
          "mark": {"type": "point", "shape": "M0,-1L0,1", "size": 900, "filled": false, "opacity": 1, "strokeWidth": 2, "color": "black"},
          "encoding": {"x": {"datum": 55.99, "axis": null}, "y": {"field": "key", "type": "nominal", "axis": null}}
        },
        {
          "transform": [{"filter": "datum.key == 'data'"}],
          "mark": {"type": "point", "shape": "square", "size": 256, "filled": true, "opacity": 1, "strokeWidth": 0, "color": "black"},
          "encoding": {"x": {"datum": 55.99, "axis": null}, "y": {"field": "key", "type": "nominal", "axis": null}}
        },
        {
          "mark": {"type": "text", "align": "left", "baseline": "middle", "fontSize": 35, "fontWeight": "bold", "color": "black"},
          "encoding": {"x": {"datum": 63.83, "axis": null}, "y": {"field": "key", "type": "nominal", "axis": null}, "text": {"field": "label"}}
        },
        {"data": {"values": [{}]}, "mark": {"type": "text", "align": "left", "baseline": "middle", "fontSize": 35, "color": "black", "text": "(E"}, "encoding": {"x": {"datum": 148.45, "axis": null}, "y": {"datum": "scale", "type": "nominal", "axis": null}}},
        {"data": {"values": [{}]}, "mark": {"type": "text", "align": "left", "baseline": "middle", "fontSize": 24, "dy": 13, "color": "black", "text": "T"}, "encoding": {"x": {"datum": 154.72, "axis": null}, "y": {"datum": "scale", "type": "nominal", "axis": null}}},
        {"data": {"values": [{}]}, "mark": {"type": "text", "align": "left", "baseline": "middle", "fontSize": 24, "dy": -17, "color": "black", "text": "γ"}, "encoding": {"x": {"datum": 154.9, "axis": null}, "y": {"datum": "scale", "type": "nominal", "axis": null}}},
        {"data": {"values": [{}]}, "mark": {"type": "text", "align": "left", "baseline": "middle", "fontSize": 35, "color": "black", "text": "/2 < μ < 2E"}, "encoding": {"x": {"datum": 157.51, "axis": null}, "y": {"datum": "scale", "type": "nominal", "axis": null}}},
        {"data": {"values": [{}]}, "mark": {"type": "text", "align": "left", "baseline": "middle", "fontSize": 24, "dy": 13, "color": "black", "text": "T"}, "encoding": {"x": {"datum": 187.28, "axis": null}, "y": {"datum": "scale", "type": "nominal", "axis": null}}},
        {"data": {"values": [{}]}, "mark": {"type": "text", "align": "left", "baseline": "middle", "fontSize": 24, "dy": -17, "color": "black", "text": "γ"}, "encoding": {"x": {"datum": 187.28, "axis": null}, "y": {"datum": "scale", "type": "nominal", "axis": null}}},
        {"data": {"values": [{}]}, "mark": {"type": "text", "align": "left", "baseline": "middle", "fontSize": 35, "color": "black", "text": ")"}, "encoding": {"x": {"datum": 190.25, "axis": null}, "y": {"datum": "scale", "type": "nominal", "axis": null}}}
      ]
    }
  ],
  "resolve": {
    "scale": {"y": "independent", "fill": "independent", "stroke": "independent"},
    "axis": {"x": "independent", "y": "independent"}
  }
}
